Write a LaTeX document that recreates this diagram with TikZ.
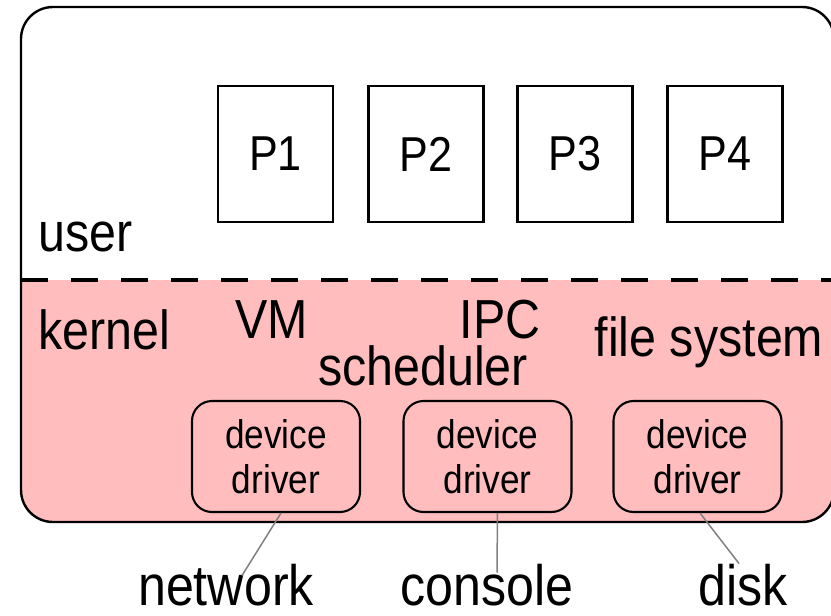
\documentclass[tikz,border=0pt]{standalone}
\usepackage{fontspec}
\setmainfont[FakeStretch=0.88]{Liberation Sans}
\usetikzlibrary{calc}
\definecolor{kernelpink}{RGB}{255,189,189}
\tikzset{
	proc/.style={draw, line width=2.1pt, minimum width=115pt, minimum height=136pt, inner sep=0pt, font=\fontsize{49}{55}\selectfont},
	driver/.style={draw, line width=2.1pt, rounded corners=20pt, minimum width=168pt, minimum height=111pt, inner sep=0pt, align=center, font=\fontsize{40}{45}\selectfont},
	biglabel/.style={inner sep=0pt, font=\fontsize{55}{60}\selectfont},
	devlabel/.style={inner sep=0pt, font=\fontsize{57}{60}\selectfont},
	wire/.style={draw=black!50, line width=1.5pt}
}

\begin{document}
\begin{tikzpicture}[x=1pt, y=-1pt]
				%%%%% START %%%%%
				\useasboundingbox (0,0) rectangle (831,616);
				
				\begin{scope}
					\clip[rounded corners=32pt] (21,7) rectangle (834,522);
					\fill[kernelpink] (21,280) rectangle (834,522);
				\end{scope}
				\draw[line width=2.4pt, rounded corners=32pt] (21,7) rectangle (834,522);
				\draw[line width=4pt, dash pattern=on 27pt off 23pt] (21,280) -- (834,280);
				
				\foreach \i/\x in {1/275.5, 2/426, 3/575, 4/725}
					\node[proc] (p\i) at (\x,154) {P\i};
				
				\node[biglabel, anchor=base west] (user) at (38,251) {user};
				\node[biglabel, anchor=base west] (kernel) at (38,349) {kernel};
				\node[biglabel, anchor=base] (vm) at (272,338) {VM};
				\node[biglabel, anchor=base] (ipc) at (500,338) {IPC};
				\node[biglabel, anchor=base] (sched) at (423,385) {scheduler};
				\node[biglabel, anchor=base] (fs) at (709,356) {file system};
				
				\foreach \i/\x in {1/276, 2/487.5, 3/697.5}
					\node[driver] (dd\i) at (\x,456.5) {device\\driver};
				
				\node[devlabel, anchor=base] (network) at (226,605) {network};
				\node[devlabel, anchor=base] (console) at (487,605) {console};
				\node[devlabel, anchor=base] (disk) at (743,605) {disk};
				
				\draw[wire] ([xshift=5pt]dd1.south) -- ([xshift=16pt, yshift=-12pt]network.north);
				\draw[wire] ([xshift=10pt]dd2.south) -- ([xshift=10pt, yshift=-9pt]console.north);
				\draw[wire] ([xshift=2.5pt]dd3.south) -- ([xshift=-4pt]disk.north);
				%%%%% END %%%%%
\end{tikzpicture}
\end{document}
